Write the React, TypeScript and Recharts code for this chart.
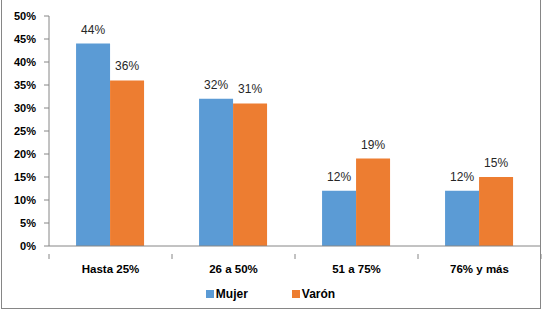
import React from "react";
import { BarChart, Bar, XAxis, YAxis, Legend, LabelList } from "recharts";

const categories = ["Hasta 25%", "26 a 50%", "51 a 75%", "76% y más"];
const mujer = [44, 32, 12, 12];
const varon = [36, 31, 19, 15];
const yTicks = [0, 5, 10, 15, 20, 25, 30, 35, 40, 45, 50];

const data = categories.map((c, i) => ({ name: c, mujer: mujer[i], varon: varon[i] }));

const W = 543;
const H = 312;
const AXIS = "#868686";
const BAND = (541 - 49) / categories.length;

const CategoryTick = (props: any) => {
  const { x, y, payload } = props;
  return (
    <g>
      <line x1={x - BAND / 2} x2={x - BAND / 2} y1={y} y2={y + 5} stroke={AXIS} />
      {payload.index === categories.length - 1 && (
        <line x1={x + BAND / 2} x2={x + BAND / 2} y1={y} y2={y + 5} stroke={AXIS} />
      )}
      <text
        x={x}
        y={y + 19}
        textAnchor="middle"
        fontSize={11.5}
        fontWeight="bold"
        fill="#000"
      >
        {payload.value}
      </text>
    </g>
  );
};

const LegendBox = ({ payload }: any) => (
  <div style={{ display: "flex", justifyContent: "center", gap: 44, paddingTop: 11 }}>
    {payload.map((p: any) => (
      <div key={p.value} style={{ display: "flex", alignItems: "center" }}>
        <span style={{ width: 8, height: 8, background: p.color, marginRight: 2 }} />
        <span style={{ fontSize: 12, fontWeight: "bold", color: "#000" }}>{p.value}</span>
      </div>
    ))}
  </div>
);

export default function App() {
  return (
    <div
      style={{
        position: "absolute",
        left: 0,
        top: 0,
        width: W,
        height: H,
        background: "#fff",
        fontFamily: "'Liberation Sans', Arial, sans-serif",
        overflow: "hidden",
      }}
    >
      <div
        style={{
          position: "absolute",
          left: 1,
          top: -2,
          width: 540,
          height: 311,
          border: `1px solid ${AXIS}`,
          boxSizing: "border-box",
        }}
      />
      <BarChart
        width={W}
        height={H}
        data={data}
        margin={{ top: 16, right: 2, left: 0, bottom: 4 }}
        barCategoryGap="22%"
        barGap={0}
      >
        <XAxis
          dataKey="name"
          axisLine={{ stroke: AXIS }}
          tickLine={false}
          height={30}
          interval={0}
          tick={<CategoryTick />}
        />
        <YAxis
          domain={[0, 50]}
          ticks={yTicks}
          interval={0}
          width={49}
          tickFormatter={(v) => `${v}%`}
          axisLine={{ stroke: AXIS }}
          tickLine={{ stroke: AXIS }}
          tickSize={5}
          tickMargin={8}
          tick={{ fontSize: 11, fontWeight: "bold", fill: "#000" }}
        />
        <Legend verticalAlign="bottom" height={32} content={<LegendBox />} />
        <Bar dataKey="mujer" name="Mujer" fill="#5B9BD5" isAnimationActive={false}>
          <LabelList
            dataKey="mujer"
            position="top"
            offset={10}
            formatter={(v: any) => `${v}%`}
            style={{ fontSize: 12, fill: "#262626" }}
          />
        </Bar>
        <Bar dataKey="varon" name="Varón" fill="#ED7D31" isAnimationActive={false}>
          <LabelList
            dataKey="varon"
            position="top"
            offset={10}
            formatter={(v: any) => `${v}%`}
            style={{ fontSize: 12, fill: "#262626" }}
          />
        </Bar>
      </BarChart>
    </div>
  );
}
